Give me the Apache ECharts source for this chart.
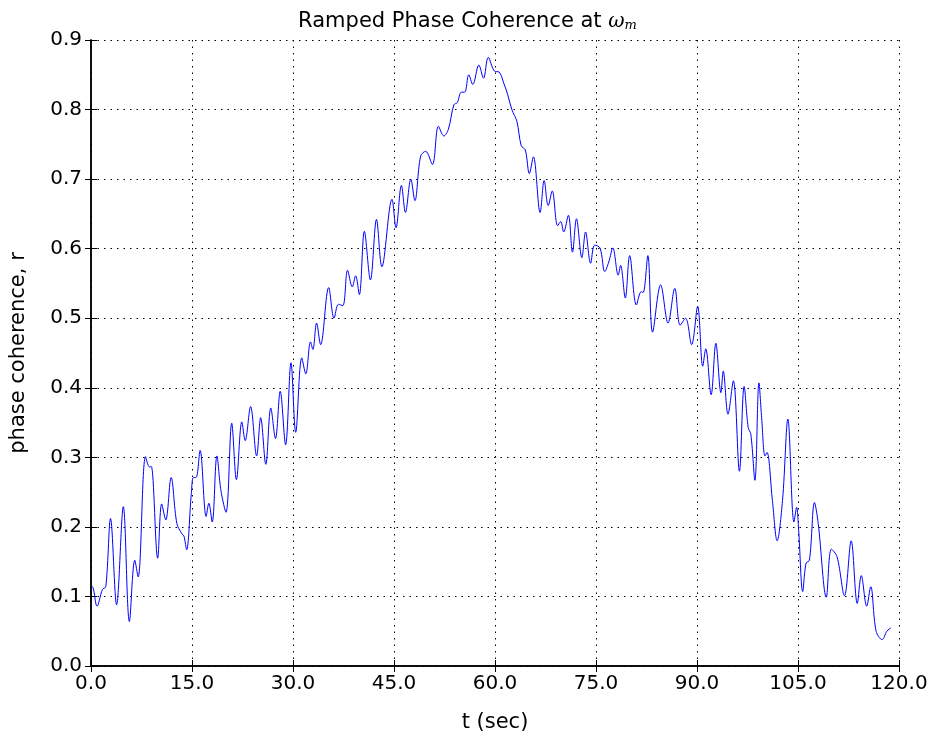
<!DOCTYPE html>
<html>
<head>
<meta charset="utf-8">
<script src="https://cdn.jsdelivr.net/npm/echarts@6/dist/echarts.min.js"></script>
<style>html,body{margin:0;padding:0;background:#fff;}#chart{width:935px;height:738px;}</style>
</head>
<body>
<div id="chart"></div>
<script>
const times = [0.0,0.3,0.9,1.7,2.2,2.9,3.8,4.8,5.7,6.5,7.0,8.1,8.7,8.95,9.9,10.5,11.1,11.9,12.75,13.5,13.8,14.2,14.9,15.2,15.6,16.2,17.1,17.5,18.0,18.7,19.3,20.05,20.9,21.6,22.4,22.9,23.7,24.6,25.2,25.96,26.7,27.4,28.1,28.9,29.7,30.4,31.3,31.9,32.6,32.95,33.5,34.1,35.3,36.1,36.75,37.4,38.1,38.8,39.3,39.85,40.6,41.5,42.4,43.2,44.7,45.3,46.1,46.7,47.5,48.1,48.95,49.7,50.7,51.6,52.4,53.05,53.9,54.4,55.0,55.5,56.1,56.7,57.6,58.3,59.0,59.95,60.6,61.3,61.9,62.5,63.25,63.9,64.5,65.1,65.7,66.7,67.3,67.9,68.5,69.3,69.75,70.2,70.9,71.5,72.1,72.9,73.45,74.2,74.8,75.6,76.3,76.9,77.5,78.3,78.65,79.35,80.0,81.0,81.7,82.0,82.7,83.4,84.6,85.7,86.7,87.5,88.3,89.2,90.1,90.85,91.3,92.1,92.8,93.55,93.9,94.6,95.4,96.3,97.0,97.6,98.0,98.6,99.2,99.6,100.1,100.4,101.2,101.9,102.7,103.5,104.4,104.8,105.1,105.7,106.2,106.7,107.45,108.0,109.2,109.95,110.8,111.9,112.9,113.8,114.4,115.2,115.8,116.6,117.5,118.2,118.8];
const coherence = [0.114,0.113,0.086,0.11,0.114,0.212,0.088,0.229,0.064,0.152,0.128,0.301,0.286,0.287,0.155,0.233,0.21,0.271,0.205,0.19,0.187,0.167,0.248,0.271,0.271,0.31,0.215,0.234,0.207,0.302,0.252,0.221,0.349,0.268,0.351,0.324,0.373,0.302,0.357,0.29,0.371,0.327,0.395,0.318,0.436,0.336,0.443,0.42,0.466,0.455,0.493,0.462,0.544,0.5,0.52,0.518,0.569,0.545,0.561,0.534,0.625,0.555,0.642,0.574,0.671,0.63,0.691,0.652,0.7,0.669,0.733,0.74,0.721,0.776,0.762,0.771,0.807,0.81,0.825,0.825,0.85,0.836,0.864,0.845,0.875,0.855,0.854,0.838,0.821,0.8,0.783,0.748,0.742,0.708,0.732,0.652,0.698,0.662,0.683,0.633,0.639,0.624,0.648,0.595,0.643,0.587,0.624,0.579,0.605,0.601,0.567,0.581,0.601,0.562,0.576,0.529,0.59,0.519,0.538,0.537,0.59,0.48,0.548,0.493,0.543,0.49,0.5,0.462,0.517,0.431,0.456,0.39,0.464,0.393,0.424,0.362,0.41,0.28,0.402,0.343,0.333,0.267,0.407,0.357,0.302,0.307,0.238,0.18,0.238,0.355,0.207,0.228,0.195,0.107,0.148,0.152,0.235,0.205,0.099,0.168,0.157,0.101,0.18,0.09,0.13,0.086,0.114,0.05,0.038,0.05,0.055];
const xTicks = [0,15,30,45,60,75,90,105,120];
const yTicks = [0,0.1,0.2,0.3,0.4,0.5,0.6,0.7,0.8,0.9];

const FONT = "'DejaVu Sans', sans-serif";
const chart = echarts.init(document.getElementById('chart'), null, {renderer: 'canvas'});
const data = times.map((t, i) => [t, coherence[i]]);
const tickStyle = {show: true, inside: true, length: 6, lineStyle: {color: '#000', width: 1}};
const lineStyle = {show: true, lineStyle: {color: '#000', width: 1.5}};
const gridLine = {show: true, lineStyle: {color: '#000', width: 1, type: [1.5, 5]}};

chart.setOption({
  animation: false,
  backgroundColor: '#fff',
  title: {
    text: 'Ramped Phase Coherence at {w|ω}{m|m}',
    left: 'center',
    top: 6,
    textStyle: {
      fontFamily: FONT, fontSize: 21, fontWeight: 'normal', color: '#000',
      rich: {
        w: {fontFamily: "'DejaVu Serif', serif", fontStyle: 'italic', fontSize: 20, color: '#000'},
        m: {fontFamily: "'DejaVu Serif', serif", fontStyle: 'italic', fontSize: 13, color: '#000', padding: [8, 0, 0, 0]}
      }
    }
  },
  grid: {left: 87, right: 36, top: 40, bottom: 68, containLabel: false},
  xAxis: [{
    type: 'value', min: xTicks[0], max: xTicks[xTicks.length - 1], interval: 15,
    position: 'bottom',
    name: 't (sec)', nameLocation: 'middle', nameGap: 46,
    nameTextStyle: {fontFamily: FONT, fontSize: 21, color: '#000'},
    axisLine: lineStyle, axisTick: tickStyle,
    axisLabel: {fontFamily: FONT, fontSize: 20, color: '#000', margin: 8, formatter: v => v.toFixed(1)},
    splitLine: gridLine
  }, {
    type: 'value', min: xTicks[0], max: xTicks[xTicks.length - 1], interval: 15,
    position: 'top',
    axisLine: lineStyle, axisTick: tickStyle, axisLabel: {show: false}, splitLine: {show: false}
  }],
  yAxis: [{
    type: 'value', min: yTicks[0], max: yTicks[yTicks.length - 1], interval: 0.1,
    position: 'left',
    name: 'phase coherence, r', nameLocation: 'middle', nameGap: 62,
    nameTextStyle: {fontFamily: FONT, fontSize: 21, color: '#000'},
    axisLine: lineStyle, axisTick: tickStyle,
    axisLabel: {fontFamily: FONT, fontSize: 20, color: '#000', margin: 9, formatter: v => v.toFixed(1)},
    splitLine: gridLine
  }, {
    type: 'value', min: yTicks[0], max: yTicks[yTicks.length - 1], interval: 0.1,
    position: 'right',
    axisLine: lineStyle, axisTick: tickStyle, axisLabel: {show: false}, splitLine: {show: false}
  }],
  series: [{
    type: 'line',
    data: data,
    xAxisIndex: 0, yAxisIndex: 0,
    smooth: 0.35,
    showSymbol: false,
    lineStyle: {color: '#0000ff', width: 1},
    z: 5
  }]
});
</script>
</body>
</html>
